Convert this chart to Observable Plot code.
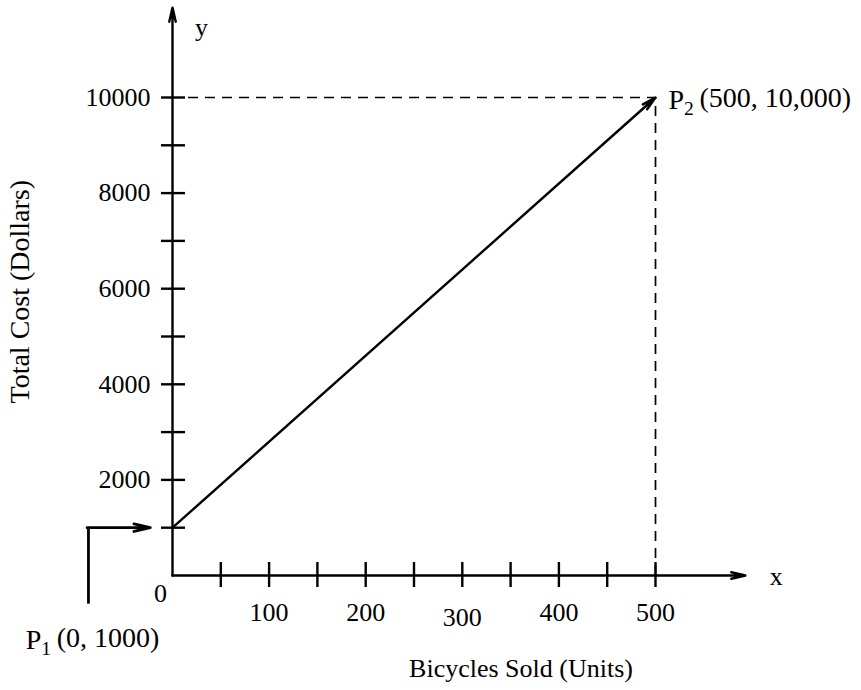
<!DOCTYPE html>
<html>
<head>
<meta charset="utf-8">
<script src="https://cdn.jsdelivr.net/npm/d3@7"></script>
<script src="https://cdn.jsdelivr.net/npm/@observablehq/plot@0.6"></script>
<style>
  html, body { margin: 0; padding: 0; background: #fff; }
  #chart svg { display: block; }
</style>
</head>
<body>
<div id="chart"></div>
<script>
// ---- data ----
const p1 = {x: 0, y: 1000, name: "P", sub: "1", coords: "(0, 1000)"};
const p2 = {x: 500, y: 10000, name: "P", sub: "2", coords: "(500, 10,000)"};
const xTicks = [50, 100, 150, 200, 250, 300, 350, 400, 450, 500];
const xTickLabels = [100, 200, 400, 500];
const xTickLabelsLow = [300];   // printed slightly lower in the original
const yTicks = [1000, 2000, 3000, 4000, 5000, 6000, 7000, 8000, 9000, 10000];
const yTickLabels = [2000, 4000, 6000, 8000, 10000];
const xAxisEnd = 593;     // x-axis arrow extends past 500
const yAxisEnd = 11880;   // y-axis arrow extends past 10000
const calloutX = -87;     // P1 callout elbow (data units)
const calloutBottom = -600;
const calloutTip = -23;
const xTitle = "Bicycles Sold (Units)";
const yTitle = "Total Cost (Dollars)";

const ink = "#000";
const sw = 2.4;
const pointLabel = d => `${d.name}${d.sub} ${d.coords}`;
const chart = Plot.plot({
  width: 861,
  height: 690,
  marginLeft: 172,
  marginRight: 206,
  marginTop: 97,
  marginBottom: 115,
  x: {type: "linear", domain: [0, 500], axis: null},
  y: {type: "linear", domain: [0, 10000], axis: null},
  style: {fontFamily: "'Liberation Serif', 'Times New Roman', serif", fontSize: "26px", color: ink, background: "#fff"},
  marks: [
    // dashed guides to P2
    Plot.ruleY([p2], {y: "y", x1: 0, x2: "x", stroke: ink, strokeWidth: 1.7, strokeDasharray: "10,7", insetLeft: 16}),
    Plot.ruleX([p2], {x: "x", y1: 0, y2: "y", stroke: ink, strokeWidth: 1.7, strokeDasharray: "10,7"}),
    // axes with arrow heads
    Plot.arrow([{x1: 0, y1: 0, x2: xAxisEnd, y2: 0}], {x1: "x1", y1: "y1", x2: "x2", y2: "y2", stroke: ink, strokeWidth: sw, headLength: 9, headAngle: 26}),
    Plot.arrow([{x1: 0, y1: 0, x2: 0, y2: yAxisEnd}], {x1: "x1", y1: "y1", x2: "x2", y2: "y2", stroke: ink, strokeWidth: sw, headLength: 9, headAngle: 26}),
    // tick marks crossing the axes
    Plot.ruleX(xTicks, {x: d => d, y1: 0, y2: 0, insetTop: -13, insetBottom: -12, stroke: ink, strokeWidth: sw}),
    Plot.ruleY(yTicks, {y: d => d, x1: 0, x2: 0, insetLeft: -11, insetRight: -13, stroke: ink, strokeWidth: sw}),
    // cost line P1 -> P2
    Plot.arrow([{p1, p2}], {x1: d => d.p1.x, y1: d => d.p1.y, x2: d => d.p2.x, y2: d => d.p2.y, stroke: ink, strokeWidth: sw, headLength: 9, headAngle: 26}),
    // P1 callout
    Plot.ruleX([p1], {x: () => calloutX, y1: () => calloutBottom, y2: "y", stroke: ink, strokeWidth: 2.8}),
    Plot.arrow([p1], {x1: () => calloutX, y1: "y", x2: () => calloutTip, y2: "y", stroke: ink, strokeWidth: 2.8, headLength: 9, headAngle: 26, insetStart: -1.4}),
    // tick labels
    Plot.text(xTickLabels, {x: d => d, y: 0, dy: 37, text: d => String(d), fill: ink}),
    Plot.text(xTickLabelsLow, {x: d => d, y: 0, dy: 42, text: d => String(d), fill: ink}),
    Plot.text(yTickLabels, {x: 0, y: d => d, dx: -22, textAnchor: "end", text: d => String(d), fill: ink}),
    Plot.text(["0"], {x: 0, y: 0, dx: -12, dy: 18, fill: ink}),
    Plot.text(["x"], {x: () => xAxisEnd, y: 0, dx: 31, dy: 1, fill: ink}),
    Plot.text(["y"], {x: 0, y: () => yAxisEnd, dx: 29, dy: 20, fill: ink}),
    // point labels
    Plot.text([p2], {x: "x", y: "y", text: pointLabel, dx: 13, dy: 3, textAnchor: "start", fill: ink, fontSize: 28, className: "pt-label"}),
    Plot.text([p1], {x: () => calloutX, y: () => calloutBottom, text: pointLabel, dx: 4, dy: 36, fill: ink, fontSize: 28, className: "pt-label"}),
    // axis titles
    Plot.text([xTitle], {frameAnchor: "bottom", dx: 107, dy: 101, fill: ink}),
    Plot.text([yTitle], {frameAnchor: "left", dx: -152, dy: 67, rotate: -90, fill: ink, fontSize: 28})
  ]
});

// render the point-label subscripts as real subscript tspans
d3.select(chart).selectAll("g.pt-label text").each(function() {
  const el = d3.select(this);
  const datum = [p2, p1].find(p => el.text() === pointLabel(p));
  if (!datum) return;
  el.text(null);
  el.append("tspan").text(datum.name);
  el.append("tspan").attr("font-size", "70%").attr("dy", "0.3em").text(datum.sub);
  el.append("tspan").attr("dy", "-0.3em").text("\u2009" + datum.coords);
});
document.getElementById("chart").append(chart);
</script>
</body>
</html>
